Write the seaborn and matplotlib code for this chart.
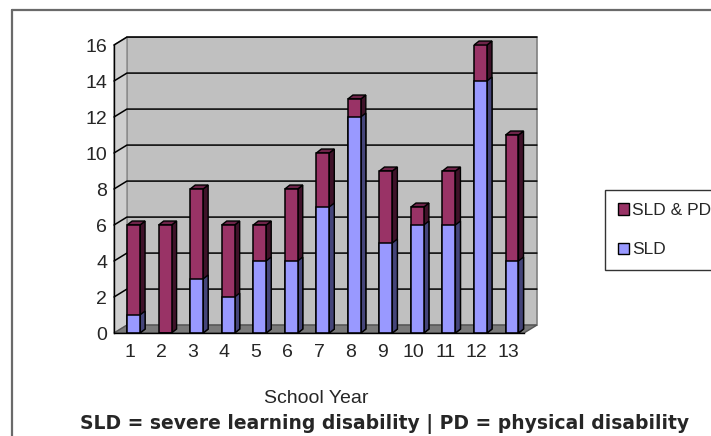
import matplotlib
matplotlib.use("Agg")
import matplotlib.pyplot as plt
from matplotlib.patches import Polygon, Patch
from matplotlib.lines import Line2D
import pandas as pd
import seaborn as sns

# School year counts by disability group
years = [str(i) for i in range(1, 14)]
sld = [1, 0, 3, 2, 4, 4, 7, 12, 5, 6, 6, 14, 4]
sld_pd = [5, 6, 5, 4, 2, 4, 3, 1, 4, 1, 3, 2, 7]
y_ticks = [0, 2, 4, 6, 8, 10, 12, 14, 16]

df = pd.DataFrame({"year": years, "SLD": sld, "SLD & PD": sld_pd})
df["total"] = df["SLD"] + df["SLD & PD"]

PLUM, PLUM_SIDE, PLUM_TOP = "#993366", "#3f1229", "#6e2449"
BLUE, BLUE_SIDE = "#9999FF", "#45457a"

sns.set_theme(style="white")
plt.rcParams["font.family"] = ["Liberation Sans", "DejaVu Sans"]

W, H = 711, 436
fig = plt.figure(figsize=(W / 100, H / 100), dpi=100)
fig.patch.set_facecolor("white")
ax = fig.add_axes([114 / W, (H - 333) / H, 410 / W, 288 / H])
ax.set_facecolor("none")

# stacked bars: full total in plum, SLD portion in blue over it
sns.barplot(data=df, x="year", y="total", color=PLUM, saturation=1, width=0.41,
            edgecolor="black", linewidth=1.1, errorbar=None, ax=ax, zorder=3)
n_tot = len(ax.patches)
sns.barplot(data=df, x="year", y="SLD", color=BLUE, saturation=1, width=0.41,
            edgecolor="black", linewidth=1.1, errorbar=None, ax=ax, zorder=3.1)

x0, x1 = -0.5, len(years) - 0.5
ymax = y_ticks[-1]
ax.set_xlim(x0, x1)
ax.set_ylim(0, ymax)

# depth offsets (data units) for the pseudo-3D look
wdx, wdy = 0.41, 0.44
bdx, bdy = 0.16, 0.22
bar_shift = 0.12  # bars sit slightly behind the front plane

# back wall, side wall and floor
ax.add_patch(Polygon([(x0 + wdx, wdy), (x1 + wdx, wdy), (x1 + wdx, ymax + wdy), (x0 + wdx, ymax + wdy)],
                     closed=True, facecolor="#C0C0C0", edgecolor="#808080", lw=1.2,
                     zorder=0, clip_on=False))
ax.add_patch(Polygon([(x0, 0), (x0 + wdx, wdy), (x0 + wdx, ymax + wdy), (x0, ymax)],
                     closed=True, facecolor="#CFCFCF", edgecolor="#909090", lw=1.0,
                     zorder=0.1, clip_on=False))
ax.add_patch(Polygon([(x0, 0), (x1, 0), (x1 + wdx, wdy), (x0 + wdx, wdy)],
                     closed=True, facecolor="#7a7a7a", edgecolor="#555555", lw=1.0,
                     zorder=0.2, clip_on=False))
for yv in y_ticks[1:]:
    ax.add_line(Line2D([x0, x0 + wdx, x1 + wdx], [yv, yv + wdy, yv + wdy],
                       color="black", lw=1.1, zorder=0.5, clip_on=False))

# side and top faces of each bar
bars = [p for p in ax.patches[:2 * n_tot]]
for i, p in enumerate(bars):
    p.set_x(p.get_x() + bar_shift)
    x, w, h = p.get_x(), p.get_width(), p.get_height()
    if h <= 0:
        continue
    is_total = i < n_tot
    side_c = PLUM_SIDE if is_total else BLUE_SIDE
    ax.add_patch(Polygon([(x + w, 0), (x + w + bdx, bdy), (x + w + bdx, h + bdy), (x + w, h)],
                         closed=True, facecolor=side_c, edgecolor="black", lw=1.0,
                         zorder=2.5 if is_total else 2.6, clip_on=False))
    if is_total:
        ax.add_patch(Polygon([(x, h), (x + w, h), (x + w + bdx, h + bdy), (x + bdx, h + bdy)],
                             closed=True, facecolor=PLUM_TOP, edgecolor="black", lw=1.0,
                             zorder=2.5, clip_on=False))

# axes lines and ticks
for s in ["top", "right"]:
    ax.spines[s].set_visible(False)
for s in ["left", "bottom"]:
    ax.spines[s].set_color("black")
    ax.spines[s].set_linewidth(1.0)
    ax.spines[s].set_zorder(4)
ax.set_yticks(y_ticks)
ax.set_yticklabels([str(v) for v in y_ticks], fontsize=14)
ax.tick_params(axis="y", direction="out", length=3, width=1, color="black", pad=2)
ax.set_xticks(range(len(years)))
ax.set_xticklabels(years, fontsize=14)
ax.set_xticks([x0 + k for k in range(len(years) + 1)], minor=True)
ax.tick_params(axis="x", which="major", length=0, pad=8)
ax.tick_params(axis="x", which="minor", direction="out", length=4, width=1, color="black")
ax.set_xlabel("")
ax.set_ylabel("")

fig.text(316 / W, (H - 398) / H, "School Year", ha="center", va="center", fontsize=14)
fig.text(385 / W, (H - 424) / H, "SLD = severe learning disability | PD = physical disability",
         ha="center", va="center", fontsize=13.5, fontweight="bold", family="DejaVu Sans")

# chart frame
fig.add_artist(Line2D([12 / W, 1.0], [(H - 10) / H, (H - 10) / H], color="#6a6a6a", lw=1.6,
                      transform=fig.transFigure))
fig.add_artist(Line2D([12 / W, 12 / W], [(H - 10) / H, 0], color="#6a6a6a", lw=1.6,
                      transform=fig.transFigure))

handles = [Patch(facecolor=PLUM, edgecolor="black", label="SLD & PD"),
           Patch(facecolor=BLUE, edgecolor="black", label="SLD")]
leg = fig.legend(handles=handles, loc="upper left", bbox_to_anchor=(605 / W, (H - 190) / H),
                 borderaxespad=0, frameon=True, fancybox=False, fontsize=12.5,
                 handlelength=0.62, handleheight=0.62, handletextpad=0.2,
                 labelspacing=1.4, borderpad=0.75)
leg.get_frame().set_edgecolor("black")
leg.get_frame().set_linewidth(1.0)

fig.savefig("out.png", dpi=100)
